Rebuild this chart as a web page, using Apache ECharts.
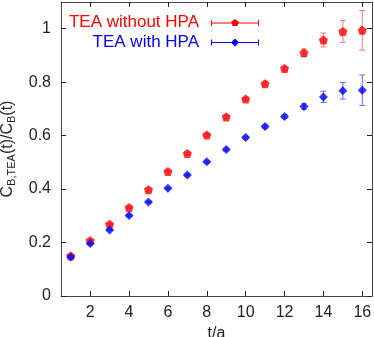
<!DOCTYPE html>
<html>
<head>
<meta charset="utf-8">
<script src="https://cdn.jsdelivr.net/npm/echarts@6/dist/echarts.min.js"></script>
<style>
  html, body { margin: 0; padding: 0; background: #fff; }
  #chart { width: 374px; height: 337px; }
</style>
</head>
<body>
<div id="chart"></div>
<script>
// t/a values
const tValues = [1, 2, 3, 4, 5, 6, 7, 8, 9, 10, 11, 12, 13, 14, 15, 16];
// TEA without HPA
const withoutHpa = [0.150, 0.207, 0.268, 0.331, 0.398, 0.466, 0.533, 0.602, 0.670, 0.737, 0.794, 0.851, 0.910, 0.958, 0.990, 0.994];
const withoutHpaErr = [0.002, 0.002, 0.003, 0.003, 0.004, 0.004, 0.005, 0.005, 0.006, 0.006, 0.007, 0.008, 0.014, 0.026, 0.041, 0.074];
// TEA with HPA
const withHpa = [0.146, 0.196, 0.247, 0.301, 0.352, 0.403, 0.453, 0.502, 0.548, 0.593, 0.634, 0.672, 0.709, 0.745, 0.768, 0.770];
const withHpaErr = [0.002, 0.002, 0.002, 0.003, 0.003, 0.003, 0.004, 0.004, 0.005, 0.005, 0.006, 0.007, 0.010, 0.021, 0.031, 0.057];
// tick labels
const xTicks = [2, 4, 6, 8, 10, 12, 14, 16];
const yTicks = [0, 0.2, 0.4, 0.6, 0.8, 1];

const font = 'Liberation Sans, Arial, sans-serif';
const axisColor = '#444';
const pentagon = 'path://M0,-1 L0.951,-0.309 L0.588,0.809 L-0.588,0.809 L-0.951,-0.309 Z';
const pentagonIcon = 'path://M0,3.5 L48,3.5 L48,4.5 L0,4.5 Z M0,1 L1,1 L1,7 L0,7 Z M47,1 L48,1 L48,7 L47,7 Z M24,0 L27.8,2.76 L26.35,7.24 L21.65,7.24 L20.2,2.76 Z';
const diamondIcon = 'path://M0,3.5 L48,3.5 L48,4.5 L0,4.5 Z M0,1 L1,1 L1,7 L0,7 Z M47,1 L48,1 L48,7 L47,7 Z M24,0 L28,4 L24,8 L20,4 Z';

const errData = (vals, errs) => tValues.map((t, i) => [t, vals[i], errs[i]]);
const pts = (vals) => tValues.map((t, i) => [t, vals[i]]);

// error bars with caps
const errorBar = (color) => (params, api) => {
  const x = api.value(0), y = api.value(1), e = api.value(2);
  const lo = api.coord([x, y - e]);
  const hi = api.coord([x, y + e]);
  const cap = 3;
  const style = { stroke: color, lineWidth: 1 };
  return {
    type: 'group',
    children: [
      { type: 'line', shape: { x1: lo[0], y1: lo[1], x2: hi[0], y2: hi[1] }, style },
      { type: 'line', shape: { x1: lo[0] - cap, y1: lo[1], x2: lo[0] + cap, y2: lo[1] }, style },
      { type: 'line', shape: { x1: hi[0] - cap, y1: hi[1], x2: hi[0] + cap, y2: hi[1] }, style }
    ]
  };
};

const chart = echarts.init(document.getElementById('chart'));

const baseAxis = {
  axisLine: { show: true, onZero: false, lineStyle: { color: axisColor, width: 1 } },
  axisTick: { show: true, inside: true, length: 5, lineStyle: { color: '#222' } },
  splitLine: { show: false },
  axisLabel: { color: '#222', fontSize: 16, fontFamily: font }
};

chart.setOption({
  animation: false,
  grid: { left: 61, right: 2, top: 2, bottom: 41, containLabel: false, outerBoundsMode: 'none' },
  legend: [
    {
      data: [{ name: 'TEA without HPA', icon: pentagonIcon, textStyle: { color: '#ff0000' } }],
      right: 115, top: 14, padding: 0, align: 'right',
      itemWidth: 48, itemHeight: 8,
      textStyle: { fontSize: 17, fontFamily: font, padding: [0, 7, 0, 0] },
      itemStyle: { color: '#ff0000' }
    },
    {
      data: [{ name: 'TEA with HPA', icon: diamondIcon, textStyle: { color: '#0000ff' } }],
      right: 115, top: 34, padding: 0, align: 'right',
      itemWidth: 48, itemHeight: 8,
      textStyle: { fontSize: 17, fontFamily: font, padding: [0, 7, 0, 0] },
      itemStyle: { color: '#0000ff' }
    }
  ],
  xAxis: [
    Object.assign({}, baseAxis, {
      type: 'value', min: 0.5, max: 16.5,
      axisTick: Object.assign({}, baseAxis.axisTick, { customValues: xTicks }),
      axisLabel: Object.assign({}, baseAxis.axisLabel, { customValues: xTicks, margin: 9 }),
      name: 't/a', nameLocation: 'middle', nameGap: 26,
      nameTextStyle: { color: '#222', fontSize: 16, fontFamily: font }
    }),
    Object.assign({}, baseAxis, {
      type: 'value', min: 0.5, max: 16.5, position: 'top',
      axisTick: Object.assign({}, baseAxis.axisTick, { customValues: xTicks }),
      axisLabel: { show: false }
    })
  ],
  yAxis: [
    Object.assign({}, baseAxis, {
      type: 'value', min: 0, max: 1.1,
      axisTick: Object.assign({}, baseAxis.axisTick, { customValues: yTicks }),
      axisLabel: Object.assign({}, baseAxis.axisLabel, { customValues: yTicks, margin: 10 }),
      name: '{a|C}{b|B,TEA}{a|(t)/C}{b|B}{a|(t)}',
      nameLocation: 'middle', nameGap: 43, nameRotate: 90,
      nameTextStyle: {
        color: '#222',
        rich: {
          a: { fontSize: 16, fontFamily: font, color: '#222', lineHeight: 20 },
          b: { fontSize: 11, fontFamily: font, color: '#222', padding: [10, 0, 0, 0], lineHeight: 20 }
        }
      }
    }),
    Object.assign({}, baseAxis, {
      type: 'value', min: 0, max: 1.1, position: 'right',
      axisTick: Object.assign({}, baseAxis.axisTick, { customValues: yTicks }),
      axisLabel: { show: false }
    })
  ],
  series: [
    {
      name: 'TEA without HPA', type: 'custom', z: 2,
      renderItem: errorBar('#f47a7a'),
      data: errData(withoutHpa, withoutHpaErr),
      encode: { x: 0, y: 1 }
    },
    {
      name: 'TEA with HPA', type: 'custom', z: 2,
      renderItem: errorBar('#6a6aff'),
      data: errData(withHpa, withHpaErr),
      encode: { x: 0, y: 1 }
    },
    {
      name: 'TEA without HPA', type: 'scatter', z: 3,
      symbol: pentagon, symbolSize: 9,
      itemStyle: { color: '#ff0000' },
      data: pts(withoutHpa)
    },
    {
      name: 'TEA with HPA', type: 'scatter', z: 3,
      symbol: 'diamond', symbolSize: 9,
      itemStyle: { color: '#0000ff' },
      data: pts(withHpa)
    }
  ]
});
</script>
</body>
</html>
